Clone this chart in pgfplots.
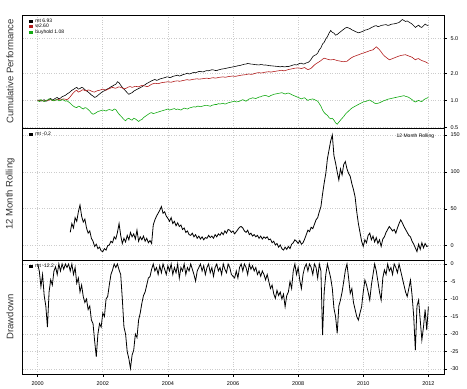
\documentclass[border=0pt]{standalone}
\usepackage{fontspec}
\setmainfont{Liberation Sans}
\usepackage{pgfplots}
\pgfplotsset{compat=1.18}
\definecolor{rred}{RGB}{178,30,30}
\definecolor{rgreen}{RGB}{20,170,20}
\pgfplotsset{
  panel/.style={
    scale only axis, width=421.3pt,
    xmin=1999.54, xmax=2012.48,
    xtick={2000,2002,...,2012},
    grid=major, major grid style={dotted, gray!40, line width=0.6pt},
    ytick pos=right, yticklabel pos=right,
    tick align=outside, major tick length=3pt,
    tick style={black, line width=0.4pt},
    axis line style={black, line width=0.6pt},
    tick label style={font=\fontsize{5.5}{6}\selectfont},
    /pgf/number format/assume math mode=true,
    every axis y label/.style={at={(axis description cs:-0.030,0.5)}, rotate=90, anchor=center, font=\fontsize{9.5}{11}\selectfont, text=black!80},
    legend style={at={(axis description cs:0.008,0.985)}, anchor=north west, draw=none, fill=none,
      font=\fontsize{5}{6}\selectfont, row sep=-1.5pt, inner sep=1pt, nodes={inner sep=1pt}},
    legend cell align=left,
    legend image code/.code={\draw[#1, line width=3.2pt] (0pt,0pt) -- (4pt,0pt);},
  },
  nox/.style={xticklabels={}, xtick style={draw=none}},
}
\begin{document}
\begin{tikzpicture}
\useasboundingbox (0,0) rectangle (467pt,389pt);
% Panel 1
\begin{axis}[panel, nox, at={(22.7pt,261pt)}, anchor=south west, height=113pt,
  ymode=log, ymin=0.49, ymax=9.1, ytick={0.5,1,2,5}, yticklabels={0.5,1.0,2.0,5.0},
  ylabel={Cumulative Performance}]
\addplot[black, line width=0.6pt] coordinates {
(2000.0,1.00)(2000.05,1.01)(2000.1,0.98)(2000.15,1.00)(2000.2,1.02)(2000.25,0.98)(2000.3,0.99)(2000.35,1.03)(2000.4,1.05)(2000.45,1.01)(2000.5,1.03)(2000.55,1.06)(2000.6,1.08)(2000.65,1.04)(2000.7,1.06)(2000.75,1.10)(2000.8,1.12)(2000.85,1.14)(2000.9,1.18)(2000.95,1.21)
(2001.0,1.25)(2001.05,1.30)(2001.1,1.33)(2001.15,1.37)(2001.2,1.40)(2001.25,1.34)(2001.3,1.36)(2001.35,1.40)(2001.4,1.38)(2001.45,1.32)(2001.5,1.28)(2001.55,1.24)(2001.6,1.20)(2001.65,1.15)(2001.7,1.12)(2001.75,1.08)(2001.8,1.10)(2001.85,1.14)(2001.9,1.18)(2001.95,1.22)
(2002.0,1.26)(2002.05,1.28)(2002.1,1.32)(2002.15,1.35)(2002.2,1.38)(2002.25,1.42)(2002.3,1.45)(2002.35,1.49)(2002.4,1.52)(2002.45,1.62)(2002.5,1.58)(2002.55,1.48)(2002.6,1.40)(2002.65,1.34)(2002.7,1.28)(2002.75,1.22)(2002.8,1.17)(2002.85,1.20)(2002.9,1.22)(2002.95,1.27)
(2003.0,1.30)(2003.05,1.33)(2003.1,1.36)(2003.15,1.39)(2003.2,1.42)(2003.25,1.47)(2003.3,1.50)(2003.35,1.55)(2003.4,1.58)(2003.45,1.62)(2003.5,1.66)(2003.55,1.69)(2003.6,1.72)(2003.65,1.68)(2003.7,1.70)(2003.75,1.74)(2003.8,1.76)(2003.85,1.78)(2003.9,1.80)(2003.95,1.83)
(2004.0,1.84)(2004.05,1.80)(2004.1,1.82)(2004.15,1.86)(2004.2,1.88)(2004.25,1.90)(2004.3,1.92)(2004.35,1.88)(2004.4,1.90)(2004.45,1.94)(2004.5,1.96)(2004.55,1.99)(2004.6,2.02)(2004.65,1.98)(2004.7,2.00)(2004.75,2.04)(2004.8,2.06)(2004.85,2.04)(2004.9,2.08)(2004.95,2.11)
(2005.0,2.12)(2005.05,2.09)(2005.1,2.10)(2005.15,2.14)(2005.2,2.16)(2005.25,2.15)(2005.3,2.18)(2005.35,2.21)(2005.4,2.20)(2005.45,2.17)(2005.5,2.16)(2005.55,2.20)(2005.6,2.22)(2005.65,2.25)(2005.7,2.26)(2005.75,2.28)(2005.8,2.30)(2005.85,2.32)(2005.9,2.34)(2005.95,2.36)
(2006.0,2.38)(2006.05,2.40)(2006.1,2.42)(2006.15,2.45)(2006.2,2.46)(2006.25,2.49)(2006.3,2.52)(2006.35,2.55)(2006.4,2.56)(2006.45,2.60)(2006.5,2.58)(2006.55,2.56)(2006.6,2.55)(2006.65,2.53)(2006.7,2.52)(2006.75,2.51)(2006.8,2.50)(2006.85,2.53)(2006.9,2.52)(2006.95,2.49)
(2007.0,2.50)(2007.05,2.48)(2007.1,2.46)(2007.15,2.45)(2007.2,2.44)(2007.25,2.43)(2007.3,2.42)(2007.35,2.41)(2007.4,2.40)(2007.45,2.38)(2007.5,2.41)(2007.55,2.39)(2007.6,2.38)(2007.65,2.41)(2007.7,2.40)(2007.75,2.43)(2007.8,2.46)(2007.85,2.50)(2007.9,2.52)(2007.95,2.50)
(2008.0,2.55)(2008.05,2.60)(2008.1,2.62)(2008.15,2.56)(2008.2,2.58)(2008.25,2.64)(2008.3,2.66)(2008.35,2.75)(2008.4,2.90)(2008.45,3.10)(2008.5,3.20)(2008.55,3.26)(2008.6,3.40)(2008.65,3.70)(2008.7,3.90)(2008.75,4.30)(2008.8,4.50)(2008.85,4.90)(2008.9,5.20)(2008.95,5.70)
(2009.0,6.10)(2009.05,5.80)(2009.1,5.70)(2009.15,5.40)(2009.2,5.50)(2009.25,5.70)(2009.3,5.90)(2009.35,6.10)(2009.4,6.30)(2009.45,6.50)(2009.5,6.60)(2009.55,6.50)(2009.6,6.40)(2009.65,6.20)(2009.7,6.10)(2009.75,5.95)(2009.8,5.85)(2009.85,5.75)(2009.9,5.80)(2009.95,5.90)
(2010.0,6.00)(2010.05,6.15)(2010.1,6.20)(2010.15,6.30)(2010.2,6.40)(2010.25,6.60)(2010.3,6.70)(2010.35,6.85)(2010.4,6.90)(2010.45,6.75)(2010.5,6.80)(2010.55,6.95)(2010.6,7.00)(2010.65,7.05)(2010.7,7.10)(2010.75,6.95)(2010.8,7.00)(2010.85,7.15)(2010.9,7.20)(2010.95,7.25)
(2011.0,7.30)(2011.05,7.40)(2011.1,7.50)(2011.15,7.80)(2011.2,8.10)(2011.25,7.90)(2011.3,7.70)(2011.35,7.80)(2011.4,7.60)(2011.45,7.40)(2011.5,7.20)(2011.55,6.90)(2011.6,6.60)(2011.65,6.80)(2011.7,7.00)(2011.75,6.70)(2011.8,6.60)(2011.85,6.90)(2011.9,7.20)(2011.95,7.00)
(2012.0,6.93)};
\addlegendentry{mt 6.93}
\addplot[rred, line width=0.6pt] coordinates {
(2000.0,1.00)(2000.05,0.99)(2000.1,1.01)(2000.15,0.99)(2000.2,0.98)(2000.25,1.00)(2000.3,1.00)(2000.35,1.01)(2000.4,1.02)(2000.45,1.00)(2000.5,0.99)(2000.55,1.01)(2000.6,1.03)(2000.65,1.02)(2000.7,1.01)(2000.75,1.03)(2000.8,1.04)(2000.85,1.03)(2000.9,1.02)(2000.95,1.05)
(2001.0,1.10)(2001.05,1.16)(2001.1,1.22)(2001.15,1.27)(2001.2,1.30)(2001.25,1.24)(2001.3,1.26)(2001.35,1.30)(2001.4,1.32)(2001.45,1.29)(2001.5,1.28)(2001.55,1.31)(2001.6,1.30)(2001.65,1.27)(2001.7,1.25)(2001.75,1.24)(2001.8,1.27)(2001.85,1.29)(2001.9,1.30)(2001.95,1.32)
(2002.0,1.34)(2002.05,1.32)(2002.1,1.30)(2002.15,1.33)(2002.2,1.36)(2002.25,1.38)(2002.3,1.40)(2002.35,1.38)(2002.4,1.37)(2002.45,1.40)(2002.5,1.42)(2002.55,1.40)(2002.6,1.38)(2002.65,1.35)(2002.7,1.36)(2002.75,1.39)(2002.8,1.42)(2002.85,1.43)(2002.9,1.40)(2002.95,1.42)
(2003.0,1.44)(2003.05,1.43)(2003.1,1.42)(2003.15,1.45)(2003.2,1.47)(2003.25,1.46)(2003.3,1.45)(2003.35,1.43)(2003.4,1.44)(2003.45,1.48)(2003.5,1.52)(2003.55,1.54)(2003.6,1.56)(2003.65,1.55)(2003.7,1.54)(2003.75,1.56)(2003.8,1.58)(2003.85,1.59)(2003.9,1.60)(2003.95,1.61)
(2004.0,1.62)(2004.05,1.61)(2004.1,1.60)(2004.15,1.62)(2004.2,1.64)(2004.25,1.65)(2004.3,1.66)(2004.35,1.64)(2004.4,1.65)(2004.45,1.67)(2004.5,1.68)(2004.55,1.70)(2004.6,1.71)(2004.65,1.69)(2004.7,1.70)(2004.75,1.72)(2004.8,1.73)(2004.85,1.74)(2004.9,1.75)(2004.95,1.73)
(2005.0,1.74)(2005.05,1.75)(2005.1,1.76)(2005.15,1.77)(2005.2,1.78)(2005.25,1.76)(2005.3,1.77)(2005.35,1.79)(2005.4,1.80)(2005.45,1.78)(2005.5,1.79)(2005.55,1.81)(2005.6,1.82)(2005.65,1.83)(2005.7,1.84)(2005.75,1.82)(2005.8,1.83)(2005.85,1.85)(2005.9,1.86)(2005.95,1.87)
(2006.0,1.88)(2006.05,1.86)(2006.1,1.87)(2006.15,1.89)(2006.2,1.90)(2006.25,1.92)(2006.3,1.93)(2006.35,1.94)(2006.4,1.95)(2006.45,1.97)(2006.5,1.98)(2006.55,1.96)(2006.6,1.97)(2006.65,2.00)(2006.7,2.02)(2006.75,2.04)(2006.8,2.05)(2006.85,2.03)(2006.9,2.04)(2006.95,2.06)
(2007.0,2.08)(2007.05,2.09)(2007.1,2.10)(2007.15,2.08)(2007.2,2.09)(2007.25,2.11)(2007.3,2.12)(2007.35,2.14)(2007.4,2.15)(2007.45,2.17)(2007.5,2.18)(2007.55,2.15)(2007.6,2.16)(2007.65,2.19)(2007.7,2.22)(2007.75,2.24)(2007.8,2.26)(2007.85,2.28)(2007.9,2.30)(2007.95,2.31)
(2008.0,2.32)(2008.05,2.30)(2008.1,2.28)(2008.15,2.31)(2008.2,2.34)(2008.25,2.27)(2008.3,2.22)(2008.35,2.25)(2008.4,2.30)(2008.45,2.40)(2008.5,2.50)(2008.55,2.58)(2008.6,2.65)(2008.65,2.72)(2008.7,2.80)(2008.75,2.90)(2008.8,2.98)(2008.85,2.94)(2008.9,2.90)(2008.95,2.87)
(2009.0,2.85)(2009.05,2.87)(2009.1,2.88)(2009.15,2.84)(2009.2,2.80)(2009.25,2.78)(2009.3,2.76)(2009.35,2.73)(2009.4,2.72)(2009.45,2.74)(2009.5,2.75)(2009.55,2.85)(2009.6,2.95)(2009.65,3.03)(2009.7,3.10)(2009.75,3.15)(2009.8,3.20)(2009.85,3.25)(2009.9,3.30)(2009.95,3.36)
(2010.0,3.40)(2010.05,3.45)(2010.1,3.50)(2010.15,3.55)(2010.2,3.62)(2010.25,3.66)(2010.3,3.70)(2010.35,3.85)(2010.4,4.00)(2010.45,3.85)(2010.5,3.70)(2010.55,3.50)(2010.6,3.30)(2010.65,3.15)(2010.7,3.05)(2010.75,2.95)(2010.8,2.86)(2010.85,2.90)(2010.9,2.95)(2010.95,3.00)
(2011.0,3.05)(2011.05,3.10)(2011.1,3.15)(2011.15,3.19)(2011.2,3.22)(2011.25,3.24)(2011.3,3.26)(2011.35,3.20)(2011.4,3.15)(2011.45,3.10)(2011.5,3.05)(2011.55,2.95)(2011.6,2.86)(2011.65,2.92)(2011.7,2.95)(2011.75,2.86)(2011.8,2.80)(2011.85,2.76)(2011.9,2.72)(2011.95,2.66)
(2012.0,2.60)};
\addlegendentry{w2.60}
\addplot[rgreen, line width=0.6pt] coordinates {
(2000.0,1.00)(2000.05,0.97)(2000.1,1.02)(2000.15,0.99)(2000.2,0.97)(2000.25,1.00)(2000.3,1.01)(2000.35,1.04)(2000.4,1.03)(2000.45,1.00)(2000.5,0.99)(2000.55,1.01)(2000.6,1.02)(2000.65,0.99)(2000.7,1.00)(2000.75,1.02)(2000.8,1.01)(2000.85,0.98)(2000.9,0.99)(2000.95,0.96)
(2001.0,0.93)(2001.05,0.89)(2001.1,0.86)(2001.15,0.84)(2001.2,0.83)(2001.25,0.86)(2001.3,0.85)(2001.35,0.82)(2001.4,0.80)(2001.45,0.83)(2001.5,0.82)(2001.55,0.79)(2001.6,0.76)(2001.65,0.72)(2001.7,0.70)(2001.75,0.71)(2001.8,0.73)(2001.85,0.75)(2001.9,0.76)(2001.95,0.77)
(2002.0,0.78)(2002.05,0.77)(2002.1,0.76)(2002.15,0.78)(2002.2,0.79)(2002.25,0.78)(2002.3,0.77)(2002.35,0.80)(2002.4,0.79)(2002.45,0.74)(2002.5,0.70)(2002.55,0.67)(2002.6,0.64)(2002.65,0.61)(2002.7,0.59)(2002.75,0.62)(2002.8,0.63)(2002.85,0.61)(2002.9,0.60)(2002.95,0.63)
(2003.0,0.62)(2003.05,0.60)(2003.1,0.58)(2003.15,0.60)(2003.2,0.61)(2003.25,0.64)(2003.3,0.66)(2003.35,0.68)(2003.4,0.70)(2003.45,0.72)(2003.5,0.73)(2003.55,0.71)(2003.6,0.72)(2003.65,0.73)(2003.7,0.74)(2003.75,0.75)(2003.8,0.76)(2003.85,0.77)(2003.9,0.78)(2003.95,0.79)
(2004.0,0.80)(2004.05,0.78)(2004.1,0.79)(2004.15,0.80)(2004.2,0.81)(2004.25,0.79)(2004.3,0.80)(2004.35,0.79)(2004.4,0.78)(2004.45,0.80)(2004.5,0.82)(2004.55,0.81)(2004.6,0.80)(2004.65,0.82)(2004.7,0.83)(2004.75,0.84)(2004.8,0.85)(2004.85,0.84)(2004.9,0.86)(2004.95,0.86)
(2005.0,0.85)(2005.05,0.86)(2005.1,0.87)(2005.15,0.88)(2005.2,0.88)(2005.25,0.87)(2005.3,0.86)(2005.35,0.88)(2005.4,0.89)(2005.45,0.90)(2005.5,0.90)(2005.55,0.92)(2005.6,0.91)(2005.65,0.92)(2005.7,0.93)(2005.75,0.91)(2005.8,0.92)(2005.85,0.94)(2005.9,0.95)(2005.95,0.96)
(2006.0,0.97)(2006.05,0.98)(2006.1,0.96)(2006.15,0.97)(2006.2,0.98)(2006.25,1.00)(2006.3,1.02)(2006.35,1.00)(2006.4,0.98)(2006.45,1.01)(2006.5,1.04)(2006.55,1.05)(2006.6,1.07)(2006.65,1.06)(2006.7,1.05)(2006.75,1.07)(2006.8,1.09)(2006.85,1.10)(2006.9,1.12)(2006.95,1.13)
(2007.0,1.14)(2007.05,1.12)(2007.1,1.10)(2007.15,1.13)(2007.2,1.15)(2007.25,1.17)(2007.3,1.18)(2007.35,1.19)(2007.4,1.20)(2007.45,1.21)(2007.5,1.22)(2007.55,1.20)(2007.6,1.18)(2007.65,1.20)(2007.7,1.21)(2007.75,1.19)(2007.8,1.16)(2007.85,1.14)(2007.9,1.12)(2007.95,1.10)
(2008.0,1.08)(2008.05,1.06)(2008.1,1.04)(2008.15,1.06)(2008.2,1.07)(2008.25,1.03)(2008.3,1.00)(2008.35,1.02)(2008.4,1.03)(2008.45,1.04)(2008.5,1.02)(2008.55,1.00)(2008.6,0.98)(2008.65,0.92)(2008.7,0.86)(2008.75,0.78)(2008.8,0.73)(2008.85,0.70)(2008.9,0.68)(2008.95,0.64)
(2009.0,0.62)(2009.05,0.63)(2009.1,0.60)(2009.15,0.56)(2009.2,0.54)(2009.25,0.57)(2009.3,0.60)(2009.35,0.63)(2009.4,0.66)(2009.45,0.70)(2009.5,0.73)(2009.55,0.76)(2009.6,0.79)(2009.65,0.82)(2009.7,0.84)(2009.75,0.86)(2009.8,0.88)(2009.85,0.90)(2009.9,0.92)(2009.95,0.94)
(2010.0,0.96)(2010.05,0.97)(2010.1,0.98)(2010.15,1.00)(2010.2,1.01)(2010.25,0.98)(2010.3,0.96)(2010.35,0.93)(2010.4,0.92)(2010.45,0.93)(2010.5,0.94)(2010.55,0.96)(2010.6,0.98)(2010.65,1.00)(2010.7,1.01)(2010.75,1.03)(2010.8,1.04)(2010.85,1.05)(2010.9,1.06)(2010.95,1.07)
(2011.0,1.08)(2011.05,1.09)(2011.1,1.10)(2011.15,1.11)(2011.2,1.12)(2011.25,1.13)(2011.3,1.11)(2011.35,1.10)(2011.4,1.08)(2011.45,1.05)(2011.5,1.02)(2011.55,0.98)(2011.6,0.96)(2011.65,0.98)(2011.7,1.00)(2011.75,0.98)(2011.8,0.97)(2011.85,1.01)(2011.9,1.04)(2011.95,1.06)
(2012.0,1.08)};
\addlegendentry{buyhold 1.08}
\end{axis}
% Panel 2
\begin{axis}[panel, nox, at={(22.7pt,129pt)}, anchor=south west, height=132pt,
  ymin=-19.4, ymax=159.5, ytick={0,50,100,150},
  ylabel={12 Month Rolling}]
\addplot[black, line width=0.8pt] coordinates {
(2001.00,18)(2001.05,30)(2001.10,24)(2001.15,38)(2001.20,33)(2001.25,46)(2001.30,55)(2001.35,40)(2001.40,32)(2001.45,36)
(2001.50,24)(2001.55,17)(2001.60,20)(2001.65,10)(2001.70,6)(2001.75,-1)(2001.80,2)(2001.85,-4)(2001.90,-2)(2001.95,-7)
(2002.00,-8)(2002.05,-4)(2002.10,-6)(2002.15,0)(2002.20,1)(2002.25,6)(2002.30,4)(2002.35,12)(2002.40,9)(2002.45,18)
(2002.50,30)(2002.55,14)(2002.60,3)(2002.65,10)(2002.70,5)(2002.75,14)(2002.80,8)(2002.85,18)(2002.90,12)(2002.95,16)
(2003.00,9)(2003.05,21)(2003.10,6)(2003.15,12)(2003.20,8)(2003.25,13)(2003.30,6)(2003.35,10)(2003.40,4)(2003.45,7)
(2003.50,3)(2003.55,28)(2003.60,35)(2003.65,40)(2003.70,44)(2003.75,48)(2003.80,53)(2003.85,44)(2003.90,46)(2003.95,40)
(2004.00,37)(2004.05,33)(2004.10,38)(2004.15,30)(2004.20,33)(2004.25,27)(2004.30,31)(2004.35,26)(2004.40,28)(2004.45,22)
(2004.50,24)(2004.55,18)(2004.60,20)(2004.65,15)(2004.70,14)(2004.75,17)(2004.80,12)(2004.85,15)(2004.90,10)(2004.95,13)
(2005.00,9)(2005.05,12)(2005.10,8)(2005.15,11)(2005.20,10)(2005.25,14)(2005.30,11)(2005.35,13)(2005.40,10)(2005.45,15)
(2005.50,12)(2005.55,16)(2005.60,14)(2005.65,18)(2005.70,15)(2005.75,20)(2005.80,17)(2005.85,22)(2005.90,21)(2005.95,18)
(2006.00,20)(2006.05,16)(2006.10,19)(2006.15,22)(2006.20,25)(2006.25,26)(2006.30,24)(2006.35,20)(2006.40,18)(2006.45,21)
(2006.50,15)(2006.55,17)(2006.60,13)(2006.65,15)(2006.70,12)(2006.75,14)(2006.80,10)(2006.85,13)(2006.90,9)(2006.95,12)
(2007.00,10)(2007.05,12)(2007.10,8)(2007.15,9)(2007.20,4)(2007.25,6)(2007.30,1)(2007.35,3)(2007.40,-2)(2007.45,1)
(2007.50,-4)(2007.55,-6)(2007.60,-2)(2007.65,-5)(2007.70,-1)(2007.75,-4)(2007.80,2)(2007.85,4)(2007.90,8)(2007.95,6)
(2008.00,3)(2008.05,7)(2008.10,2)(2008.15,4)(2008.20,9)(2008.25,15)(2008.30,21)(2008.35,19)(2008.40,25)(2008.45,23)
(2008.50,29)(2008.55,35)(2008.60,38)(2008.65,46)(2008.70,53)(2008.75,70)(2008.80,85)(2008.85,98)(2008.90,118)(2008.95,130)
(2009.00,142)(2009.05,150)(2009.10,122)(2009.15,112)(2009.20,100)(2009.25,89)(2009.30,104)(2009.35,96)(2009.40,110)(2009.45,114)
(2009.50,104)(2009.55,98)(2009.60,94)(2009.65,84)(2009.70,76)(2009.75,66)(2009.80,46)(2009.85,30)(2009.90,18)(2009.95,6)
(2010.00,-1)(2010.05,8)(2010.10,4)(2010.15,14)(2010.20,17)(2010.25,8)(2010.30,13)(2010.35,5)(2010.40,11)(2010.45,3)
(2010.50,8)(2010.55,-1)(2010.60,9)(2010.65,12)(2010.70,18)(2010.75,22)(2010.80,26)(2010.85,23)(2010.90,20)(2010.95,22)
(2011.00,17)(2011.05,24)(2011.10,30)(2011.15,35)(2011.20,31)(2011.25,26)(2011.30,22)(2011.35,18)(2011.40,14)(2011.45,12)
(2011.50,6)(2011.55,2)(2011.60,-3)(2011.65,-8)(2011.70,2)(2011.75,-5)(2011.80,4)(2011.85,-3)(2011.90,3)(2011.95,-1)
(2012.00,-0.2)};
\addlegendentry{mt -0.2}
\node[anchor=north east, font=\fontsize{5}{6}\selectfont] at (rel axis cs:0.985,0.985) {12 Month Rolling};
\end{axis}
% Panel 3
\begin{axis}[panel, at={(22.7pt,15pt)}, anchor=south west, height=114pt,
  ymin=-31.4, ymax=1.14, ytick={-30,-25,...,0},
  xtick pos=bottom, xticklabel style={yshift=-1pt},
  xticklabels={2000,2002,2004,2006,2008,2010,2012},
  ylabel={Drawdown}]
\addplot[black, line width=0.8pt] coordinates {
(2000.00,0)(2000.05,-2)(2000.10,-6.5)(2000.15,-3)(2000.20,-9)(2000.25,-12)(2000.30,-18)(2000.35,-8)(2000.40,-4.5)(2000.45,-6)
(2000.50,-2)(2000.55,-0.8)(2000.60,-3)(2000.65,0)(2000.70,-2)(2000.75,0)(2000.80,-1.5)(2000.85,0)(2000.90,-1)(2000.95,0)
(2001.00,-2)(2001.05,0)(2001.10,-3)(2001.15,-1)(2001.20,-5.5)(2001.25,-4)(2001.30,-8)(2001.35,-6)(2001.40,-9.3)(2001.45,-11)
(2001.50,-10)(2001.55,-13)(2001.60,-12)(2001.65,-16)(2001.70,-17)(2001.75,-22)(2001.80,-26.5)(2001.85,-20)(2001.90,-17)(2001.95,-18)
(2002.00,-14)(2002.05,-15)(2002.10,-10)(2002.15,-9.3)(2002.20,-6)(2002.25,-3)(2002.30,-1.7)(2002.35,0)(2002.40,-1)(2002.45,0)
(2002.50,-1.7)(2002.55,-3)(2002.60,-10)(2002.65,-18)(2002.70,-20)(2002.75,-25)(2002.80,-27)(2002.85,-29.8)(2002.90,-26)(2002.95,-24.6)
(2003.00,-20)(2003.05,-21)(2003.10,-16)(2003.15,-14)(2003.20,-11.2)(2003.25,-9)(2003.30,-8)(2003.35,-6)(2003.40,-4)(2003.45,-3.6)
(2003.50,-1.5)(2003.55,0)(2003.60,-2)(2003.65,-1)(2003.70,-3)(2003.75,-0.5)(2003.80,-2.5)(2003.85,0)(2003.90,-1.5)(2003.95,-3)
(2004.00,-0.5)(2004.05,-2)(2004.10,0)(2004.15,-3)(2004.20,-1)(2004.25,-2.5)(2004.30,0)(2004.35,-4)(2004.40,-1)(2004.45,-2)
(2004.50,0)(2004.55,-3)(2004.60,-1)(2004.65,-2)(2004.70,0)(2004.75,-1.5)(2004.80,-3)(2004.85,-4.9)(2004.90,-2)(2004.95,-1)
(2005.00,0)(2005.05,-2)(2005.10,-0.5)(2005.15,-3)(2005.20,-1)(2005.25,0)(2005.30,-2.5)(2005.35,-1)(2005.40,-3.5)(2005.45,-1)
(2005.50,0)(2005.55,-2)(2005.60,-1)(2005.65,-3)(2005.70,0)(2005.75,-1.5)(2005.80,-2.5)(2005.85,0)(2005.90,-1)(2005.95,-3)
(2006.00,-3.5)(2006.05,-4)(2006.10,-2)(2006.15,-4)(2006.20,-1)(2006.25,0)(2006.30,-2)(2006.35,0)(2006.40,-1)(2006.45,-3)
(2006.50,0)(2006.55,-1.5)(2006.60,-0.5)(2006.65,-2)(2006.70,-1)(2006.75,-3)(2006.80,-2)(2006.85,-3.5)(2006.90,-2)(2006.95,-3)
(2007.00,-4.5)(2007.05,-3)(2007.10,-5)(2007.15,-7)(2007.20,-6)(2007.25,-8.5)(2007.30,-9.8)(2007.35,-7.5)(2007.40,-9)(2007.45,-8)
(2007.50,-10)(2007.55,-8.6)(2007.60,-12.2)(2007.65,-9)(2007.70,-8)(2007.75,-5)(2007.80,-7)(2007.85,-2)(2007.90,0)(2007.95,-3)
(2008.00,-1)(2008.05,-4.6)(2008.10,-7)(2008.15,-3)(2008.20,-1)(2008.25,0)(2008.30,-2)(2008.35,0)(2008.40,-1)(2008.45,-3)
(2008.50,0)(2008.55,-1)(2008.60,-4)(2008.65,0)(2008.70,-2)(2008.75,-20.3)(2008.80,-8)(2008.85,-3)(2008.90,0)(2008.95,-2)
(2009.00,-4)(2009.05,-7)(2009.10,-12.7)(2009.15,-15)(2009.20,-19.8)(2009.25,-12)(2009.30,-10.3)(2009.35,-8)(2009.40,-5)(2009.45,-1.8)
(2009.50,0)(2009.55,-4)(2009.60,-8.4)(2009.65,-7)(2009.70,-11)(2009.75,-13)(2009.80,-15)(2009.85,-16)(2009.90,-14)(2009.95,-12.2)
(2010.00,-8)(2010.05,-4.6)(2010.10,-6)(2010.15,-8)(2010.20,-10.3)(2010.25,-6)(2010.30,-3)(2010.35,0)(2010.40,-2)(2010.45,-5)
(2010.50,-8)(2010.55,-10.3)(2010.60,-4)(2010.65,-1.7)(2010.70,-3)(2010.75,0)(2010.80,-2)(2010.85,-1)(2010.90,-3)(2010.95,0)
(2011.00,-1)(2011.05,-2.5)(2011.10,0)(2011.15,-2)(2011.20,-4)(2011.25,-6)(2011.30,-8)(2011.35,-9.3)(2011.40,-7)(2011.45,-4.6)
(2011.50,-9)(2011.55,-15)(2011.60,-24.6)(2011.65,-12)(2011.70,-10.3)(2011.75,-16)(2011.80,-21.7)(2011.85,-18)(2011.90,-13)(2011.95,-18.9)
(2012.00,-12.2)};
\addlegendentry{mt -12.2}
\end{axis}
\end{tikzpicture}
\end{document}
